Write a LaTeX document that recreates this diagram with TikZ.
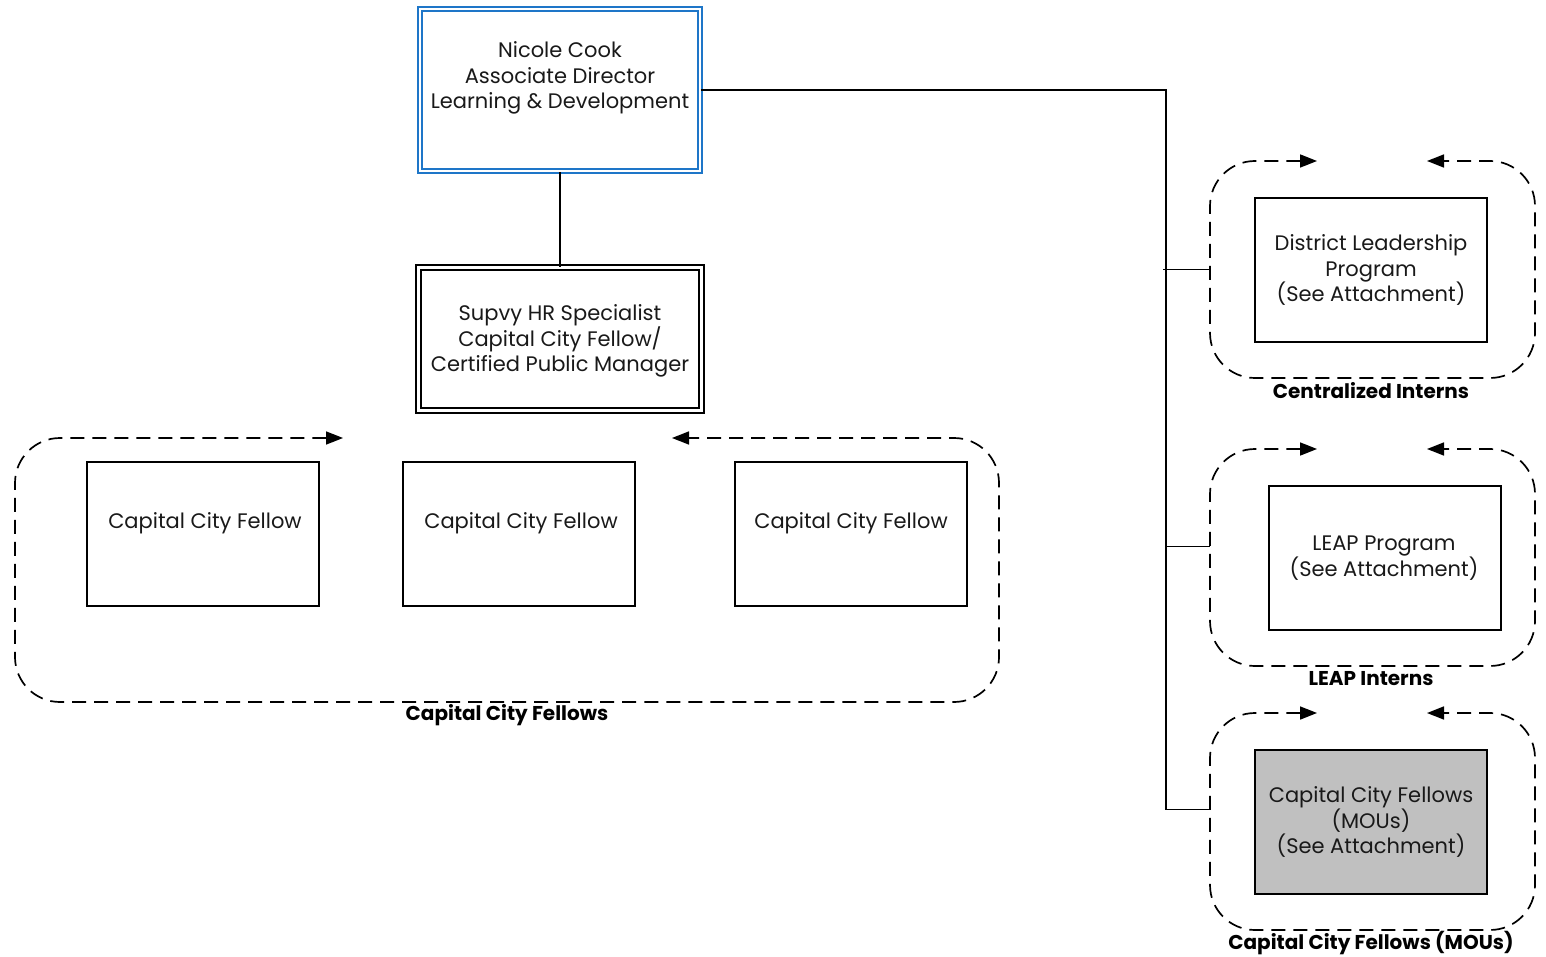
\documentclass[tikz,border=0pt]{standalone}
\usepackage{fontspec}
\setmainfont{Poppins}
\usetikzlibrary{arrows.meta}
\definecolor{dirblue}{RGB}{30,118,200}
\definecolor{moufill}{RGB}{192,192,192}
\definecolor{ink}{RGB}{25,25,25}
\begin{document}
\begin{tikzpicture}[x=1pt,y=-1pt,
  unitbox/.style={draw, line width=1.8pt, minimum width=232pt, minimum height=144pt, inner sep=0pt, outer sep=0pt},
  txt/.style={font=\fontsize{21}{25.5}\selectfont, align=center, text=ink, inner sep=0pt},
  grplabel/.style={font=\fontsize{20}{22}\selectfont\bfseries, text=black, inner sep=0pt},
  frame/.style={inner sep=0pt, outer sep=0pt},
  grp/.style={draw, line width=1.7pt, dash pattern=on 14pt off 8pt, rounded corners=45pt,
    {Triangle[length=17pt,width=13pt]}-{Triangle[length=17pt,width=13pt]}},
  link/.style={draw, line width=1.8pt}
]
\useasboundingbox (0,0) rectangle (1546,957);

% director and supervisor
\node[draw=dirblue, double=white, double distance=2.5pt, line width=1.8pt,
      minimum width=280pt, minimum height=162pt, inner sep=0pt] (dir) at (560,90) {};
\node[txt] (dirtxt) at (560,78) {Nicole Cook\\Associate Director\\Learning \& Development};

\node[draw, double=white, double distance=3.5pt, line width=1.7pt,
      minimum width=283pt, minimum height=143pt, inner sep=0pt] (supvy) at (560,339) {};
\node[txt] (supvytxt) at (560,341) {Supvy HR Specialist\\Capital City Fellow/\\Certified Public Manager};

\draw[link] (dir.south) -- (supvy.north);

% Capital City Fellows group
\node[frame, minimum width=984pt, minimum height=264pt] (gccf) at (507,570) {};
\draw[grp] ([xshift=328pt]gccf.north west) -- (gccf.north west) -- (gccf.south west)
  -- (gccf.south east) -- (gccf.north east) -- ([xshift=-327pt]gccf.north east);
\node[grplabel] (gccflbl) at (507,715) {Capital City Fellows};

\node[unitbox] (f1) at (203,534) {};
\node[unitbox] (f2) at (519,534) {};
\node[unitbox] (f3) at (851,534) {};
\node[txt] at (205,523) {Capital City Fellow};
\node[txt] at (521,523) {Capital City Fellow};
\node[txt] at (851,523) {Capital City Fellow};

% right-hand programme groups
\node[frame, minimum width=325pt, minimum height=217pt] (g1) at (1372.5,269.5) {};
\node[frame, minimum width=325pt, minimum height=217pt] (g2) at (1372.5,557.5) {};
\node[frame, minimum width=325pt, minimum height=217pt] (g3) at (1372.5,821.5) {};
\foreach \g in {g1,g2,g3}{
  \draw[grp] ([xshift=107pt]\g.north west) -- (\g.north west) -- (\g.south west)
    -- (\g.south east) -- (\g.north east) -- ([xshift=-108pt]\g.north east);
}
\node[grplabel] at (1371,391) {Centralized Interns};
\node[grplabel] at (1371,679) {LEAP Interns};
\node[grplabel] at (1371,943) {Capital City Fellows (MOUs)};

\node[unitbox] (dlp) at (1371,270) {};
\node[txt] at (1371,270) {District Leadership\\Program\\(See Attachment)};
\node[unitbox] (leap) at (1385,558) {};
\node[txt] at (1384,558) {LEAP Program\\(See Attachment)};
\node[unitbox, fill=moufill] (mou) at (1371,822) {};
\node[txt] at (1371,822) {Capital City Fellows\\(MOUs)\\(See Attachment)};

% reporting lines to the programme groups
\coordinate (trunk) at (1166,90);
\coordinate (in1) at (g1.west);
\coordinate (in2) at ([yshift=11pt]g2.west);
\coordinate (in3) at ([yshift=12pt]g3.west);
\draw[link] (dir.east) -- (trunk) |- (in3);
\draw[link] ([xshift=-3pt]trunk |- in1) -- (in1);
\draw[link] (trunk |- in2) -- (in2);
\end{tikzpicture}
\end{document}
